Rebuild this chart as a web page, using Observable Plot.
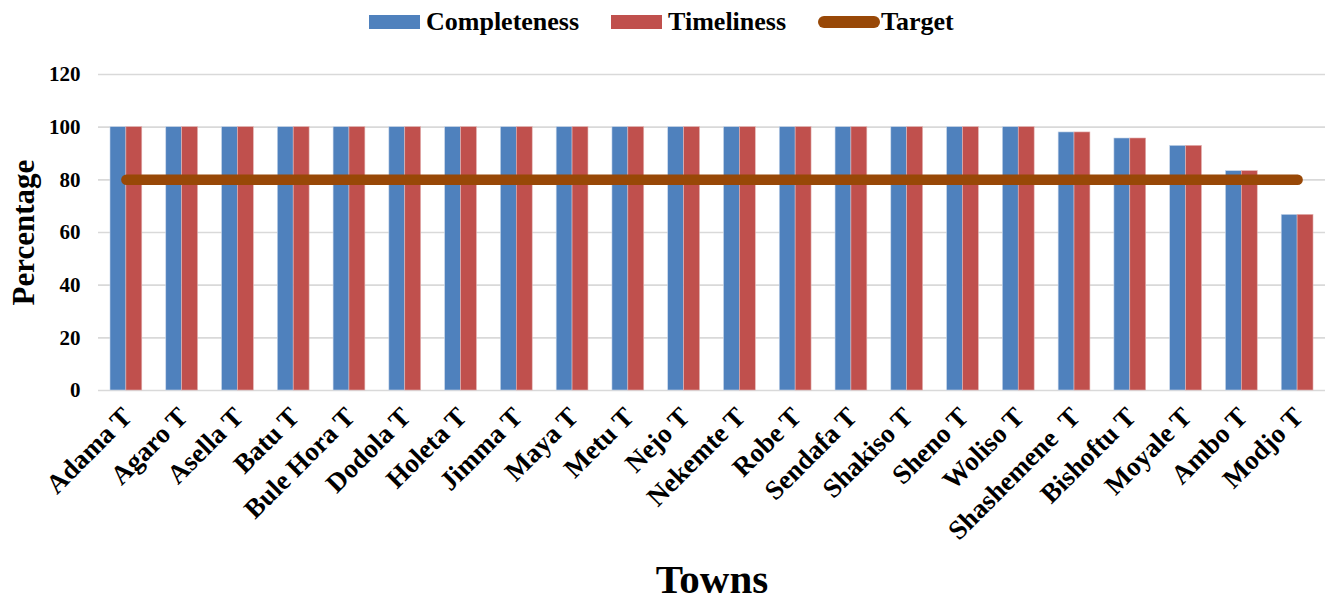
<!DOCTYPE html>
<html>
<head>
<meta charset="utf-8">
<script src="https://cdn.jsdelivr.net/npm/d3@7"></script>
<script src="https://cdn.jsdelivr.net/npm/@observablehq/plot@0.6"></script>
<style>
  html, body { margin: 0; padding: 0; background: #fff; }
  body { width: 1338px; height: 600px; overflow: hidden; font-family: "Liberation Serif", "Times New Roman", serif; }
  #legend { height: 40px; display: flex; justify-content: flex-start; align-items: center; font-weight: bold; font-size: 26px; color: #000; padding-left: 369px; padding-top: 4px; box-sizing: border-box; }
  .item { display: flex; align-items: center; margin-right: 32px; }
  .sw { width: 51px; height: 14px; margin-right: 6px; }
  .line { width: 62px; height: 12px; border-radius: 6px; margin-right: 1px; }
  svg text { font-family: "Liberation Serif", "Times New Roman", serif; font-weight: bold; fill: #000; white-space: pre; }
</style>
</head>
<body>
<div id="legend"></div>
<div id="chart"></div>
<script>
const towns = ["Adama T","Agaro T","Asella T","Batu T","Bule Hora T","Dodola T","Holeta T","Jimma T","Maya T","Metu T","Nejo T","Nekemte T","Robe T","Sendafa T","Shakiso T","Sheno T","Woliso T","Shashemene  T","Bishoftu T","Moyale T","Ambo T","Modjo T"];
const completeness = [100,100,100,100,100,100,100,100,100,100,100,100,100,100,100,100,100,98,95.7,92.9,83.3,66.7];
const timeliness   = [100,100,100,100,100,100,100,100,100,100,100,100,100,100,100,100,100,98,95.7,92.9,83.3,66.7];
const target = 80;
const yTicks = [0,20,40,60,80,100,120];
const seriesNames = ["Completeness","Timeliness","Target"];
const seriesColors = ["#4F81BD","#C0504D","#984807"];

const rows = towns.map((t, i) => ({town: t, completeness: completeness[i], timeliness: timeliness[i], target}));

// legend
const legend = document.getElementById("legend");
seriesNames.forEach((name, i) => {
  const item = document.createElement("div");
  item.className = "item";
  const sw = document.createElement("div");
  sw.className = i === 2 ? "line" : "sw";
  sw.style.background = seriesColors[i];
  item.appendChild(sw);
  const label = document.createElement("span");
  label.textContent = name;
  item.appendChild(label);
  legend.appendChild(item);
});

const width = 1338, height = 560;
const marginLeft = 98, marginRight = 13;
const pInner = 0.43, pOuter = 0.215;
const step = (width - marginLeft - marginRight) / (towns.length - pInner + 2 * pOuter);
const half = step * (1 - pInner) / 2;

const chart = Plot.plot({
  width, height,
  marginTop: 34, marginBottom: 210, marginLeft, marginRight,
  style: {fontFamily: "Liberation Serif, Times New Roman, serif", fontWeight: "bold", background: "#fff", color: "#000"},
  x: {domain: towns, paddingInner: pInner, paddingOuter: pOuter, align: 0.5, round: false},
  y: {domain: [0, 120]},
  marks: [
    Plot.gridY(yTicks, {stroke: "#d9d9d9", strokeOpacity: 1, strokeWidth: 1.6}),
    Plot.barY(rows, {x: "town", y: "completeness", fill: seriesColors[0], insetRight: half, stroke: "#c9d7ea", strokeWidth: 0.6}),
    Plot.barY(rows, {x: "town", y: "timeliness", fill: seriesColors[1], insetLeft: half, stroke: "#e3b3b2", strokeWidth: 0.6}),
    Plot.lineY(rows, {x: "town", y: "target", stroke: seriesColors[2], strokeWidth: 10.5, strokeLinecap: "round"}),
    Plot.axisY(yTicks, {tickSize: 0, tickPadding: 18, fontSize: 21, label: null}),
    Plot.axisX({tickSize: 0, tickPadding: 22, dx: 1, tickRotate: -45, fontSize: 27, label: null}),
    Plot.text(["Percentage"], {frameAnchor: "left", textAnchor: "middle", dx: -74, rotate: -90, fontSize: 31, fontWeight: "bold"}),
    Plot.text(["Towns"], {frameAnchor: "bottom", lineAnchor: "bottom", dy: 202, fontSize: 41, fontWeight: "bold"})
  ]
});
document.getElementById("chart").appendChild(chart);
</script>
</body>
</html>
